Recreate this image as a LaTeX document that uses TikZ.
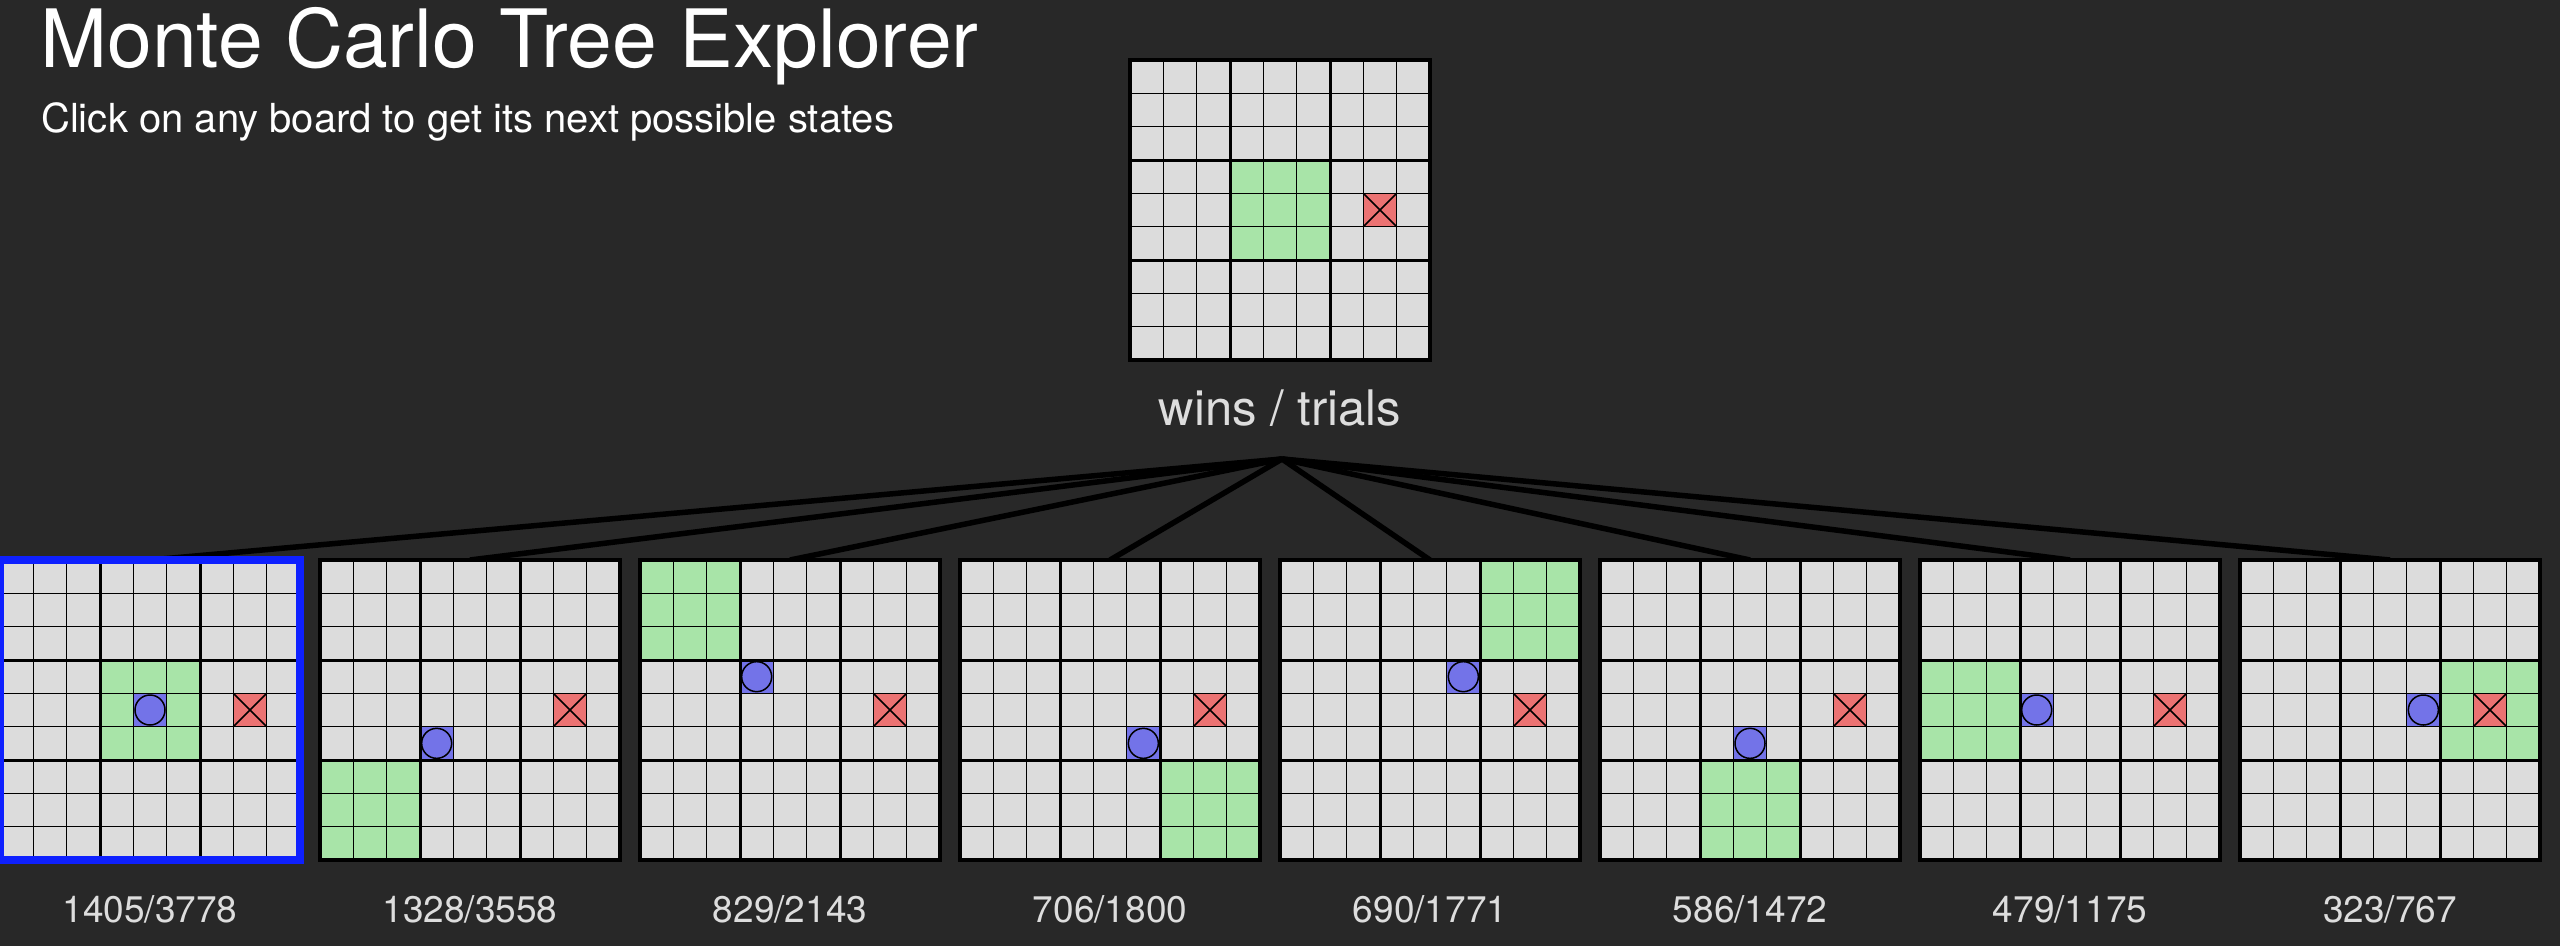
\documentclass[tikz,border=0pt]{standalone}
\usepackage{fontspec}
\setmainfont{TeX Gyre Heros}
\usetikzlibrary{calc}
\pgfdeclarelayer{bg}
\pgfsetlayers{bg,main}
\definecolor{bgc}{RGB}{40,40,40}
\definecolor{cellc}{RGB}{220,220,220}
\definecolor{greenc}{RGB}{168,228,168}
\definecolor{redc}{RGB}{235,114,114}
\definecolor{bluec}{RGB}{115,115,232}
\definecolor{selc}{RGB}{14,32,255}
\definecolor{labelc}{RGB}{221,221,221}
\tikzset{
  boardbox/.style={minimum size=300pt, inner sep=0pt, outer sep=0pt, fill=cellc},
  thingrid/.style={draw=black, line width=1.5pt},
  thickgrid/.style={draw=black, line width=3pt},
  boardframe/.style={draw=black, line width=4.5pt},
  selframe/.style={draw=selc, line width=8pt},
  treeedge/.style={draw=black, line width=5.5pt},
  piece/.style={draw=black, line width=1.5pt},
  statlabel/.style={text=labelc, font=\fontsize{37}{44}\selectfont, anchor=base, inner sep=0pt},
}
% board node with green 3x3 block: name, cx, cy, gx, gy
\newcommand{\mcboard}[5]{%
  \node[boardbox] (#1) at (#2,#3) {};
  \fill[greenc] (#2-150+#4*100, #3-150+#5*100) rectangle ++(100,100);
}
% O piece: cx, cy, col, row
\newcommand{\mco}[4]{%
  \fill[bluec] (#1-150+#3*100/3, #2-150+#4*100/3) rectangle ++(100/3,100/3);
  \draw[piece, fill=bluec] (#1-150+#3*100/3+50/3, #2-150+#4*100/3+50/3) circle[radius=15pt];
}
% X piece: cx, cy, col, row
\newcommand{\mcx}[4]{%
  \fill[redc] (#1-150+#3*100/3, #2-150+#4*100/3) rectangle ++(100/3,100/3);
  \draw[piece] (#1-150+#3*100/3, #2-150+#4*100/3) -- ++(100/3,100/3)
               (#1-150+#3*100/3+100/3, #2-150+#4*100/3) -- ++(-100/3,100/3);
}
% grid lines and frame: cx, cy
\newcommand{\mcgrid}[2]{%
  \foreach \k in {1,2,4,5,7,8}{
    \draw[thingrid] (#1-150+\k*100/3, #2-150) -- ++(0,300);
    \draw[thingrid] (#1-150, #2-150+\k*100/3) -- ++(300,0);
  }
  \foreach \k in {3,6}{
    \draw[thickgrid] (#1-150+\k*100/3, #2-150) -- ++(0,300);
    \draw[thickgrid] (#1-150, #2-150+\k*100/3) -- ++(300,0);
  }
  \draw[boardframe] (#1-150,#2-150) rectangle ++(300,300);
}
\begin{document}
\begin{tikzpicture}[x=1pt,y=-1pt]
\useasboundingbox (0,0) rectangle (2560,946);
\begin{pgfonlayer}{bg}
  \fill[bgc] (0,0) rectangle (2560,946);
\end{pgfonlayer}

\node[anchor=base west, inner sep=0pt, text=white, font=\fontsize{80.5}{92}\selectfont] (title) at (40,67) {Monte Carlo Tree Explorer};
\node[anchor=base west, inner sep=0pt, text=white, font=\fontsize{40}{48}\selectfont] (subtitle) at (41,132) {Click on any board to get its next possible states};

% root board
\mcboard{root}{1280}{210}{1}{1}
\mcx{1280}{210}{7}{4}
\mcgrid{1280}{210}

\node[anchor=base, inner sep=0pt, text=labelc, font=\fontsize{49}{58}\selectfont] (wt) at (1280,425) {wins / trials};
\coordinate (apex) at (1282,459);

% child boards
\foreach \i/\gx/\gy/\ox/\oy/\lw/\lt in {0/1/1/4/4/1405/3778, 1/0/2/3/5/1328/3558, 2/0/0/3/3/829/2143, 3/2/2/5/5/706/1800, 4/2/0/5/3/690/1771, 5/1/2/4/5/586/1472, 6/0/1/3/4/479/1175, 7/2/1/5/4/323/767}{
  \mcboard{b\i}{150+320*\i}{710}{\gx}{\gy}
  \mco{150+320*\i}{710}{\ox}{\oy}
  \mcx{150+320*\i}{710}{7}{4}
  \mcgrid{150+320*\i}{710}
  \node[statlabel] (l\i) at (150+320*\i,922) {\lw/\lt};
}
\draw[selframe] (b0.north west) rectangle (b0.south east);

\begin{pgfonlayer}{bg}
  \foreach \i in {0,...,7}{
    \draw[treeedge] (apex) -- (b\i.north);
  }
\end{pgfonlayer}
\end{tikzpicture}
\end{document}
